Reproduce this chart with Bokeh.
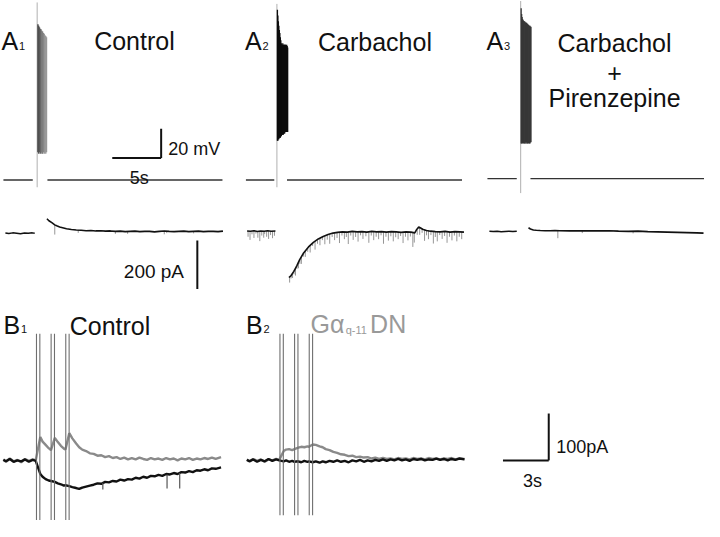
import numpy as np
from bokeh.plotting import figure
from bokeh.models import Range1d, Label
from bokeh.embed import file_html
from bokeh.resources import INLINE

# ---------------- DATA (physical units) ----------------
# Panel A: membrane potential (mV), time (s) relative to stimulus
V_REST = -60.0
A_VBASE_LEFT_T = [[-3.45, -0.45], [-3.17, -0.27], [-3.4, -0.4]]
A_VBASE_RIGHT_T = [[1.05, 18.95], [1.03, 18.93], [1.0, 18.8]]
A_VBASE_V = [-60.0, -60.0, -59.0]
A_STIM_V_TOP = [62, 61, 63]
A_STIM_V_BOT = [-65, -65, -69]

A1_SPIKE_T = [0.08, 0.16, 0.24, 0.32, 0.40, 0.48, 0.56, 0.64, 0.72, 0.80, 0.88, 0.96]
A1_SPIKE_PEAK = [47, 46, 45, 44, 43.5, 42.5, 42, 41, 40.5, 39.5, 39, 38]
A1_SPIKE_TROUGH = [-41, -42, -41, -42, -41, -42, -42, -41, -42, -41, -42, -41]

A2_SPIKE_T = [0.05, 0.10, 0.15, 0.20, 0.25, 0.30, 0.35, 0.40, 0.45, 0.50, 0.55,
              0.60, 0.65, 0.70, 0.75, 0.80, 0.85, 0.90, 0.95, 1.00, 1.05, 1.10]
A2_SPIKE_PEAK = [57, 53, 49, 46, 43, 41, 38, 36, 34, 32, 33,
                 34, 33, 33, 33, 33, 33, 33, 32, 33, 32, 31]
A2_SPIKE_TROUGH = [-33, -33, -32, -32, -31, -31, -31, -30, -30, -29, -29,
                   -29, -29, -28, -28, -28, -27, -27, -27, -27, -27, -27]

A3_SPIKE_T = [0.05, 0.10, 0.15, 0.20, 0.25, 0.30, 0.35, 0.40, 0.45, 0.50, 0.55,
              0.60, 0.65, 0.70, 0.75, 0.80, 0.85, 0.90, 0.95, 1.00, 1.05]
A3_SPIKE_PEAK = [58, 54, 52, 50.7, 50, 49.3, 49.3, 48.7, 48.7, 48, 48,
                 48, 47.3, 47.3, 46.7, 46.7, 46, 46, 46, 45.3, 45.3]
A3_SPIKE_TROUGH = [-35, -35, -34, -35, -34, -35, -34, -35, -35, -34, -35,
                   -34, -35, -35, -34, -35, -34, -35, -35, -34, -34]

# Panel A: holding current (pA)
A1_I_LEFT_T = [-3.25, -2.9, -2.5, -2.1, -1.7, -1.3, -0.9, -0.5, -0.25]
A1_I_LEFT = [-7, -9, -6, -8, -10, -7, -8, -6, -8]
A1_I_RIGHT_T = [1.0, 1.2, 1.5, 1.8, 2.0, 2.3, 2.7, 3.0, 3.5, 4.0, 4.5, 5.0, 5.5, 6.0,
                6.5, 7.0, 7.5, 8.0, 8.5, 9.0, 9.5, 10.0, 10.5, 11.0, 11.5, 12.0, 12.5,
                13.0, 13.5, 14.0, 14.5, 15.0, 15.5, 16.0, 16.5, 17.0, 17.5, 18.0, 18.5, 19.0]
A1_I_RIGHT = [52, 44, 36, 27, 23, 18, 14, 11, 8, 6, 5, 3, 4, 2,
              3, 1, 2, 0, 1, -1, 0, 1, -1, 0, 0, -2, 0,
              2, 0, -1, 0, 1, -1, 0, 1, -1, 0, 0, -1, 1]
A1_MINI_T = [1.8, 4.2, 8.0, 9.25, 13.0, 13.25, 16.0]
A1_MINI_BASE = [27, 6, 0, 0, 2, 1, 0]
A1_MINI_DEPTH = [-40, -12, -10, -10, -14, -8, -8]

A2_I_LEFT_T = [-3.05, -2.7, -2.35, -2.0, -1.65, -1.3, -0.95, -0.6, -0.15]
A2_I_LEFT = [2, 1, 3, 0, 2, 1, 3, 1, 2]
A2_I_RIGHT_T = [1.23, 1.45, 1.73, 2.03, 2.33, 2.73, 3.23, 3.73, 4.23, 4.73, 5.23, 5.73,
                6.2, 6.7, 7.2, 7.7, 8.2, 8.7, 9.2, 9.7, 10.2, 10.7, 11.2, 11.7, 12.2,
                12.7, 13.2, 13.7, 14.1, 14.3, 14.5, 14.7, 14.9, 15.3, 15.7, 16.2, 16.7,
                17.2, 17.7, 18.2, 18.7, 19.13]
A2_I_RIGHT = [-190, -182, -165, -142, -116, -89, -64, -45, -31, -21, -13, -7,
              -4, -2, -3, 0, -2, -1, -3, 0, -2, -1, -3, -1, -2,
              -4, -2, -3, -6, 8, 18, 14, 9, 4, 1, -1, -2,
              0, -3, -1, -2, -3]
A2_MINI_T = [-2.95, -2.75, -2.55, -2.35, -2.15, -1.95, -1.75, -1.55, -1.35, -1.25,
             -1.05, -0.85, -0.65, -0.45, -0.25,
             1.3, 1.45, 1.6, 1.75, 1.9, 2.05, 2.2, 2.35, 2.5, 2.7, 2.9, 3.15, 3.4, 3.65,
             3.9, 4.15, 4.4, 4.65, 4.9, 5.15, 5.4, 5.65, 5.9, 6.15, 6.4, 6.65, 6.9, 7.1,
             7.3, 7.55, 7.8, 8.05, 8.3, 8.55, 8.8, 9.1, 9.4, 9.65, 9.9, 10.15, 10.4,
             10.65, 10.9, 11.15, 11.4, 11.65, 11.9, 12.15, 12.4, 12.65, 12.9, 13.15,
             13.4, 13.65, 13.9, 14.05, 14.35, 14.6, 14.85, 15.1, 15.3, 15.5, 15.75,
             16.0, 16.2, 16.4, 16.65, 16.9, 17.15, 17.4, 17.65, 17.9, 18.15, 18.4,
             18.65, 18.9]
A2_MINI_BASE = [2, 1, 2, 3, 1, 0, 2, 1, 2, 1, 2, 3, 1, 2, 2,
                -186, -182, -172, -162, -152, -140, -127, -116, -104, -92, -80, -68, -57,
                -48, -40, -33, -27, -22, -18, -14, -11, -8, -6, -5, -3, -3, -2, -3,
                -2, -1, 0, -1, -2, -2, -1, -2, -2, -1, -1, -2, -2,
                -1, -1, -2, -3, -2, -1, -2, -2, -3, -3, -2,
                -2, -3, -4, -6, 6, 16, 12, 6, 4, 3, 1,
                0, -1, -1, -1, -1, -1, -2, -2, -2, -1, -1,
                -2, -2]
A2_MINI_DEPTH = [-24, -36, -14, -30, -10, -26, -42, -18, -28, -12, -24, -34, -16, -30, -20,
                 -25, -12, -20, -15, -30, -14, -25, -18, -30, -12, -25, -16, -30,
                 -12, -35, -18, -30, -14, -35, -20, -40, -15, -30, -22, -45, -14, -30, -20,
                 -50, -16, -35, -22, -40, -14, -30, -18, -45, -16, -35, -20, -30,
                 -15, -50, -20, -35, -18, -40, -22, -30, -16, -45, -20,
                 -35, -18, -60, -40, -20, -30, -18, -45, -20, -35, -16,
                 -50, -22, -40, -14, -30, -18, -45, -20, -35, -16, -40,
                 -20, -30]

A3_I_LEFT_T = [-3.2, -2.8, -2.4, -2.0, -1.6, -1.2, -0.8, -0.4]
A3_I_LEFT = [1, 0, 1, -1, 0, 1, 0, 1]
A3_I_RIGHT_T = [0.8, 1.0, 1.3, 1.6, 2.0, 2.5, 3.0, 3.5, 4.0, 5.0, 6.0, 7.0, 8.0, 9.0,
                10.0, 11.0, 12.0, 13.0, 14.0, 15.0, 16.0, 17.0, 18.0, 18.7]
A3_I_RIGHT = [15, 10, 6, 5, 4, 3, 3, 4, 3, 2, 3, 2, 2, 3,
              1, 0, 1, -1, -2, -3, -4, -5, -6, -7]
A3_MINI_T = [3.8, 6.3, 11.5]
A3_MINI_BASE = [4, 3, 0]
A3_MINI_DEPTH = [-32, -10, -8]

# Panel B: current (pA) vs time (s) relative to first stimulus
B_T = [-2.17, -2.0, -1.75, -1.5, -1.25, -1.0, -0.75, -0.5, -0.25, -0.05,
       0.25, 0.4, 0.6, 0.8, 0.95, 1.2, 1.4, 1.6, 1.8, 1.9, 2.15, 2.35, 2.6, 2.8,
       3.0, 3.25, 3.5, 3.75, 4.0, 4.25, 4.5, 4.75, 5.0, 5.25, 5.5, 5.75, 6.0,
       6.25, 6.5, 6.75, 7.0, 7.25, 7.5, 7.75, 8.0, 8.25, 8.5, 8.75, 9.0, 9.25,
       9.5, 9.75, 10.0, 10.25, 10.5, 10.75, 11.0, 11.25, 11.5, 11.75, 12.1]
B1_GRAY = [2, -3, 4, -2, 1, -4, 3, -1, 2, 0,
           50, 40, 33, 26, 22, 48, 39, 31, 25, 23, 58, 47, 36, 28,
           23, 20, 15, 14, 10, 11, 7, 9, 5, 7, 3, 6, 2,
           5, 2, 6, 3, 1, 5, 2, 4, 1, 5, 2, 4, 0,
           4, 2, 5, 1, 4, 2, 5, 3, 6, 3, 7]
B1_BLACK = [1, -2, 3, -3, 0, -2, 2, -3, 1, -1,
            -29, -35, -40, -43, -44, -46, -49, -51, -54, -53, -55, -57, -59, -61,
            -58, -56, -54, -52, -49, -50, -46, -47, -44, -45, -41, -43, -40,
            -41, -37, -39, -35, -37, -33, -34, -31, -33, -29, -30, -27, -29,
            -25, -26, -23, -25, -21, -22, -19, -21, -17, -18, -15]
B1_MINI_T = [4.35, 8.56, 9.39]
B1_MINI_BASE = [-48, -30, -27]
B1_MINI_DEPTH = [-14, -30, -33]
B2_GRAY = [2, -2, 3, -1, 2, -3, 2, 0, 3, 1,
           20, 23, 24, 22, 24, 27, 29, 28, 30, 29, 34, 33, 30, 28,
           24, 22, 18, 16, 13, 12, 9, 10, 7, 8, 6, 7, 4,
           6, 3, 5, 3, 4, 2, 5, 3, 4, 2, 5, 3, 4,
           2, 5, 3, 4, 2, 4, 3, 5, 2, 4, 3]
B2_BLACK = [1, -2, 2, -3, 1, -2, 3, -1, 2, 0,
            -2, 0, -3, -1, -3, -2, -4, -1, -3, -2, -4, -2, -5, -2,
            -4, -1, -3, 0, -3, -1, -4, 0, -2, 1, -3, 0, -2,
            1, -1, 2, -1, 2, 0, 3, 0, 2, -1, 3, 1, 3,
            0, 2, 1, 4, 1, 3, 0, 3, 1, 4, 2]
B_STIM_T = [0.0, 0.96, 1.92]
B_STIM_PAIR_DT = 0.22
B_STIM_TOP = 270
B_STIM_BOT = [-127, -117]

# Scale bars
SB_A_T, SB_A_V, SB_A_I = 5, 20, 200
SB_B_T, SB_B_I = 3, 100

# ---------------- LAYOUT (reference-pixel frame) ----------------
A_X0 = [37.5, 282.7, 532.0]
A_PX_S = 10.0
A_V_Y0 = 185.0
A_PX_MV = 1.5
A_I_Y0 = 238.0
A_PX_PA = 0.25
B_X0 = [36.8, 285.8]
B_PX_S = 15.6
B_Y0 = 474.0
B_PX_PA = 0.483

FONT = "Liberation Sans"
INK = "#111111"

def ax(k, t):
    return A_X0[k] + np.asarray(t, dtype=float) * A_PX_S

def avy(v):
    return A_V_Y0 - (np.asarray(v, dtype=float) - V_REST) * A_PX_MV

def aiy(i):
    return A_I_Y0 - np.asarray(i, dtype=float) * A_PX_PA

def bx(k, t):
    return B_X0[k] + np.asarray(t, dtype=float) * B_PX_S

def biy(i):
    return B_Y0 - np.asarray(i, dtype=float) * B_PX_PA

p = figure(width=704, height=521, x_range=Range1d(0, 720), y_range=Range1d(537, 0),
           output_backend="svg", toolbar_location=None,
           x_axis_type=None, y_axis_type=None, min_border=0)
p.outline_line_color = None
p.background_fill_color = "white"
p.border_fill_color = "white"

# ---- Panel A voltage ----
spikes = [(A1_SPIKE_T, A1_SPIKE_PEAK, A1_SPIKE_TROUGH),
          (A2_SPIKE_T, A2_SPIKE_PEAK, A2_SPIKE_TROUGH),
          (A3_SPIKE_T, A3_SPIKE_PEAK, A3_SPIKE_TROUGH)]
spike_colors = [
    ["#3a3a3a", "#4a4a4a", "#555555", "#606060", "#6a6a6a", "#747474",
     "#7c7c7c", "#848484", "#8a8a8a", "#909090", "#949494", "#989898"],
    "#0d0d0d",
    "#383838",
]
for k in range(3):
    for seg in (A_VBASE_LEFT_T[k], A_VBASE_RIGHT_T[k]):
        p.line(ax(k, seg), avy([A_VBASE_V[k]] * 2), line_color="#333333", line_width=1.3)
    p.segment(x0=ax(k, [0.0]), y0=avy([A_STIM_V_TOP[k]]), x1=ax(k, [0.0]),
              y1=avy([A_STIM_V_BOT[k]]), line_color="#b0b0b0", line_width=1.0)
    st, pk, tr = spikes[k]
    p.segment(x0=ax(k, st), y0=avy(tr), x1=ax(k, st), y1=avy(pk),
              line_color=spike_colors[k], line_width=1.3)

# scale bars A
cx, cy = 164.3, 162.3
p.line([cx - SB_A_T * A_PX_S, cx], [cy, cy], line_color=INK, line_width=2)
p.line([cx, cx], [cy, cy - SB_A_V * A_PX_MV], line_color=INK, line_width=2)
p.line([201.3, 201.3], [297.3, 297.3 - SB_A_I * A_PX_PA], line_color=INK, line_width=2)

# ---- Panel A current ----
cur = [(A1_I_LEFT_T, A1_I_LEFT, A1_I_RIGHT_T, A1_I_RIGHT, A1_MINI_T, A1_MINI_BASE, A1_MINI_DEPTH),
       (A2_I_LEFT_T, A2_I_LEFT, A2_I_RIGHT_T, A2_I_RIGHT, A2_MINI_T, A2_MINI_BASE, A2_MINI_DEPTH),
       (A3_I_LEFT_T, A3_I_LEFT, A3_I_RIGHT_T, A3_I_RIGHT, A3_MINI_T, A3_MINI_BASE, A3_MINI_DEPTH)]
for k, (lt, lv, rt, rv, mt, mb, md) in enumerate(cur):
    p.segment(x0=ax(k, mt), y0=aiy(mb), x1=ax(k, mt),
              y1=aiy(np.asarray(mb) + np.asarray(md)), line_color="#8a8a8a", line_width=0.9)
    p.line(ax(k, lt), aiy(lv), line_color=INK, line_width=1.5)
    p.line(ax(k, rt), aiy(rv), line_color=INK, line_width=1.6)

# ---- Panel B ----
B_GRAY_C = "#8a8a8a"
for k, (g, b) in enumerate([(B1_GRAY, B1_BLACK), (B2_GRAY, B2_BLACK)]):
    p.line(bx(k, B_T), biy(g), line_color=B_GRAY_C, line_width=2.4)
    p.line(bx(k, B_T), biy(b), line_color=INK, line_width=2.4)
    if k == 0:
        p.segment(x0=bx(0, B1_MINI_T), y0=biy(B1_MINI_BASE), x1=bx(0, B1_MINI_T),
                  y1=biy(np.asarray(B1_MINI_BASE) + np.asarray(B1_MINI_DEPTH)),
                  line_color="#555555", line_width=1.2)
    for dt in (0.0, B_STIM_PAIR_DT):
        xs = bx(k, np.asarray(B_STIM_T) + dt)
        p.segment(x0=xs, y0=biy([B_STIM_TOP] * 3), x1=xs, y1=biy([B_STIM_BOT[k]] * 3),
                  line_color="#6f6f6f", line_width=1.1)

# scale bars B
cx, cy = 560.7, 474.0
p.line([cx - SB_B_T * B_PX_S, cx], [cy, cy], line_color=INK, line_width=2)
p.line([cx, cx], [cy, cy - SB_B_I * B_PX_PA], line_color=INK, line_width=2)

# ---------------- TEXT ----------------
def lab(x, y, text, size, align="left", color=INK):
    p.add_layout(Label(x=x, y=y, text=text, text_font=FONT, text_font_size=size,
                       text_align=align, text_baseline="alphabetic", text_color=color))

BIG = "25px"
SUB = "11px"
lab(1, 42, "A", BIG); lab(19, 47, "1", SUB)
lab(250, 42, "A", BIG); lab(268, 47, "2", SUB)
lab(497, 42, "A", BIG); lab(515, 47, "3", SUB)
lab(137, 42, "Control", BIG, "center")
lab(383, 43, "Carbachol", BIG, "center")
lab(628, 43.5, "Carbachol", BIG, "center")
lab(628, 75, "+", BIG, "center")
lab(628, 100, "Pirenzepine", BIG, "center")
lab(171.5, 153.3, "20 mV", "18px")
lab(142, 182.7, "5s", "18px", "center")
lab(187.7, 279.3, "200 pA", "19px", "right")

lab(3, 334.5, "B", BIG); lab(21, 339, "1", SUB)
lab(112, 335, "Control", BIG, "center")
lab(251, 334.5, "B", BIG); lab(269, 339, "2", SUB)
GC = "#999999"
lab(317, 333, "G\u03b1", BIG, color=GC)
lab(353, 340, "q-11", SUB, color=GC)
lab(378, 333, "DN", BIG, color=GC)
lab(568.3, 460.7, "100pA", "18px")
lab(544, 495, "3s", "18px", "center")

open("out.html", "w").write(file_html(p, INLINE))
